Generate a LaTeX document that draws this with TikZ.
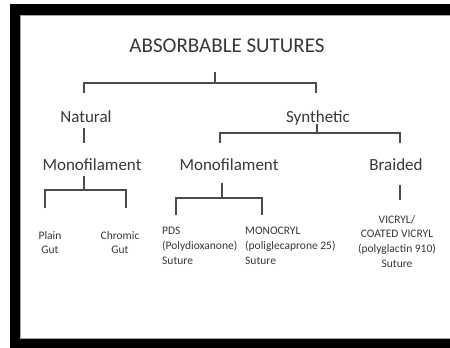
\documentclass[tikz,border=0pt]{standalone}
\usepackage{fontspec}
\setmainfont{Carlito}
\begin{document}
\begin{tikzpicture}[x=1pt,y=-1pt,
  txt/.style={text=black!78, inner sep=0pt, align=center},
  big/.style={txt, font=\fontsize{21}{25}\selectfont},
  mid/.style={txt, font=\fontsize{17}{20}\selectfont},
  small/.style={txt, font=\fontsize{11.5}{14.7}\selectfont},
  ln/.style={draw=black!70, line width=1.2pt}]
\useasboundingbox (0,0) rectangle (450,348);
\fill[black] (10,4) rectangle (450,348);
\fill[black!35] (20,15) rectangle (450,339);
\fill[white] (21,16) rectangle (450,338);
% texts
\node[big, anchor=base] (title) at (227,52) {ABSORBABLE SUTURES};
\node[mid, anchor=base] (nat) at (86,122) {Natural};
\node[mid, anchor=base] (syn) at (318,122) {Synthetic};
\node[mid, anchor=base] (mono1) at (92,170) {Monofilament};
\node[mid, anchor=base] (mono2) at (229,170) {Monofilament};
\node[mid, anchor=base] (braid) at (396,170) {Braided};
\node[small, anchor=north] (plain) at (50,231) {Plain\\Gut};
\node[small, anchor=north] (chrom) at (120,231) {Chromic\\Gut};
\node[small, anchor=north west, align=left] (pds) at (162,227) {PDS\\(Polydioxanone)\\Suture};
\node[small, anchor=north west, align=left] (monoc) at (245,227) {MONOCRYL\\(poliglecaprone 25)\\Suture};
\node[small, anchor=north] (vic) at (397,215) {VICRYL/\\COATED VICRYL\\(polyglactin 910)\\Suture};
% junction coordinates
\coordinate (t0) at (215,72); \coordinate (t1) at (215,83);
\coordinate (a0) at (84,93); \coordinate (a1) at (84,83);
\coordinate (b0) at (316,93); \coordinate (b1) at (316,83);
\coordinate (n0) at (84,128); \coordinate (n1) at (84,143);
\coordinate (s0) at (317,124); \coordinate (s1) at (317,133);
\coordinate (c0) at (220,143); \coordinate (c1) at (220,133);
\coordinate (d0) at (400,143); \coordinate (d1) at (400,133);
\coordinate (m0) at (84,176); \coordinate (m1) at (84,190);
\coordinate (e0) at (45,208); \coordinate (e1) at (45,190);
\coordinate (f0) at (126,208); \coordinate (f1) at (126,190);
\coordinate (p0) at (222,183); \coordinate (p1) at (222,198);
\coordinate (g0) at (176,215); \coordinate (g1) at (176,198);
\coordinate (h0) at (262,215); \coordinate (h1) at (262,198);
\coordinate (v0) at (400,185); \coordinate (v1) at (400,200);
% connectors
\draw[ln] (t0) -- (t1);
\draw[ln] (a0) -- (a1) -- (b1) -- (b0);
\draw[ln] (n0) -- (n1);
\draw[ln] (s0) -- (s1);
\draw[ln] (c0) -- (c1) -- (d1) -- (d0);
\draw[ln] (m0) -- (m1);
\draw[ln] (e0) -- (e1) -- (f1) -- (f0);
\draw[ln] (p0) -- (p1);
\draw[ln] (g0) -- (g1) -- (h1) -- (h0);
\draw[ln] (v0) -- (v1);
\end{tikzpicture}
\end{document}
